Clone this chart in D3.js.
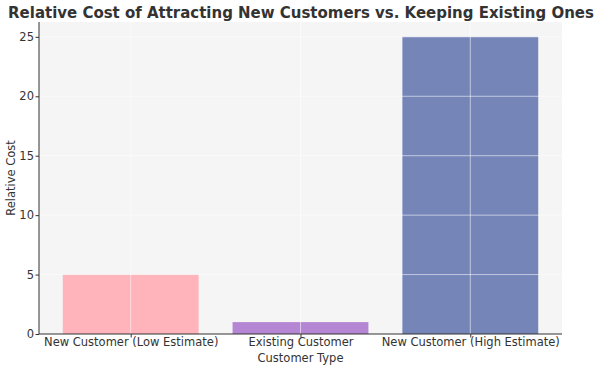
<!DOCTYPE html>
<html><head><meta charset="utf-8">
<script src="https://cdn.jsdelivr.net/npm/d3@7"></script>
<style>body{margin:0;background:#fff}text{font-family:"DejaVu Sans",sans-serif}</style>
</head><body><svg id="c" width="600" height="369"></svg>
<script>
const categories = ["New Customer (Low Estimate)", "Existing Customer", "New Customer (High Estimate)"];
const values = [5, 1, 25];
const colors = ["#ffb3ba", "#b586d4", "#7585b8"];
const yTicks = [0, 5, 10, 15, 20, 25];

const svg = d3.select("#c");
const m = {l: 39, r: 562, t: 22, b: 334};
const x = d3.scaleLinear().domain([-0.54, 2.54]).range([m.l, m.r]);
const y = d3.scaleLinear().domain([0, 26.25]).range([m.b, m.t]);

svg.append("rect").attr("x", m.l).attr("y", m.t).attr("width", m.r - m.l).attr("height", m.b - m.t).attr("fill", "#f5f5f5");

svg.selectAll(".bar").data(values).enter().append("rect")
  .attr("x", (d, i) => x(i - 0.4)).attr("width", (d, i) => x(i + 0.4) - x(i - 0.4))
  .attr("y", d => y(d)).attr("height", d => y(0) - y(d))
  .attr("fill", (d, i) => colors[i]);

// grid on top
const g = svg.append("g");
g.selectAll(".hg").data(yTicks.slice(1)).enter().append("line")
  .attr("x1", m.l).attr("x2", m.r).attr("y1", d => y(d)).attr("y2", d => y(d))
  .attr("stroke", "#fff").attr("stroke-opacity", 0.55).attr("stroke-width", 1);
g.selectAll(".vg").data(categories).enter().append("line")
  .attr("y1", m.t).attr("y2", m.b).attr("x1", (d, i) => x(i)).attr("x2", (d, i) => x(i))
  .attr("stroke", "#fff").attr("stroke-opacity", 0.55).attr("stroke-width", 1);

// axes
const yAxis = d3.axisLeft(y).tickValues(yTicks).tickSize(3.5).tickPadding(1.5).tickFormat(d3.format("d"));
const ya = svg.append("g").attr("transform", `translate(${m.l},0)`).call(yAxis);
const xAxis = d3.axisBottom(x).tickValues([0, 1, 2]).tickSize(3.5).tickPadding(0.5).tickFormat(i => categories[i]);
const xa = svg.append("g").attr("transform", `translate(0,${m.b})`).call(xAxis);
[ya, xa].forEach(a => {
  a.select(".domain").attr("stroke", "#333").attr("stroke-width", 1);
  a.selectAll(".tick line").attr("stroke", "#333");
  a.selectAll(".tick text").attr("fill", "#333").style("font-size", "11.5px").style("font-family", "DejaVu Sans");
});
ya.select(".domain").attr("d", `M0,${m.b}V${m.t}`);
xa.select(".domain").attr("d", `M${m.l},0H${m.r}`);

const title = svg.append("text").attr("x", 301).attr("y", 18).attr("text-anchor", "middle")
  .style("font-size", "15px").style("font-weight", "bold").attr("fill", "#333")
  .text("Relative Cost of Attracting New Customers vs. Keeping Existing Ones");
const tw = title.node().getComputedTextLength();
if (tw > 0) title.style("font-size", (15 * 586 / tw) + "px");
svg.append("text").attr("x", (m.l + m.r) / 2).attr("y", 362).attr("text-anchor", "middle")
  .style("font-size", "11.5px").attr("fill", "#333").text("Customer Type");
svg.append("text").attr("transform", `translate(15,${(m.t + m.b) / 2}) rotate(-90)`).attr("text-anchor", "middle")
  .style("font-size", "11.5px").attr("fill", "#333").text("Relative Cost");
</script></body></html>
